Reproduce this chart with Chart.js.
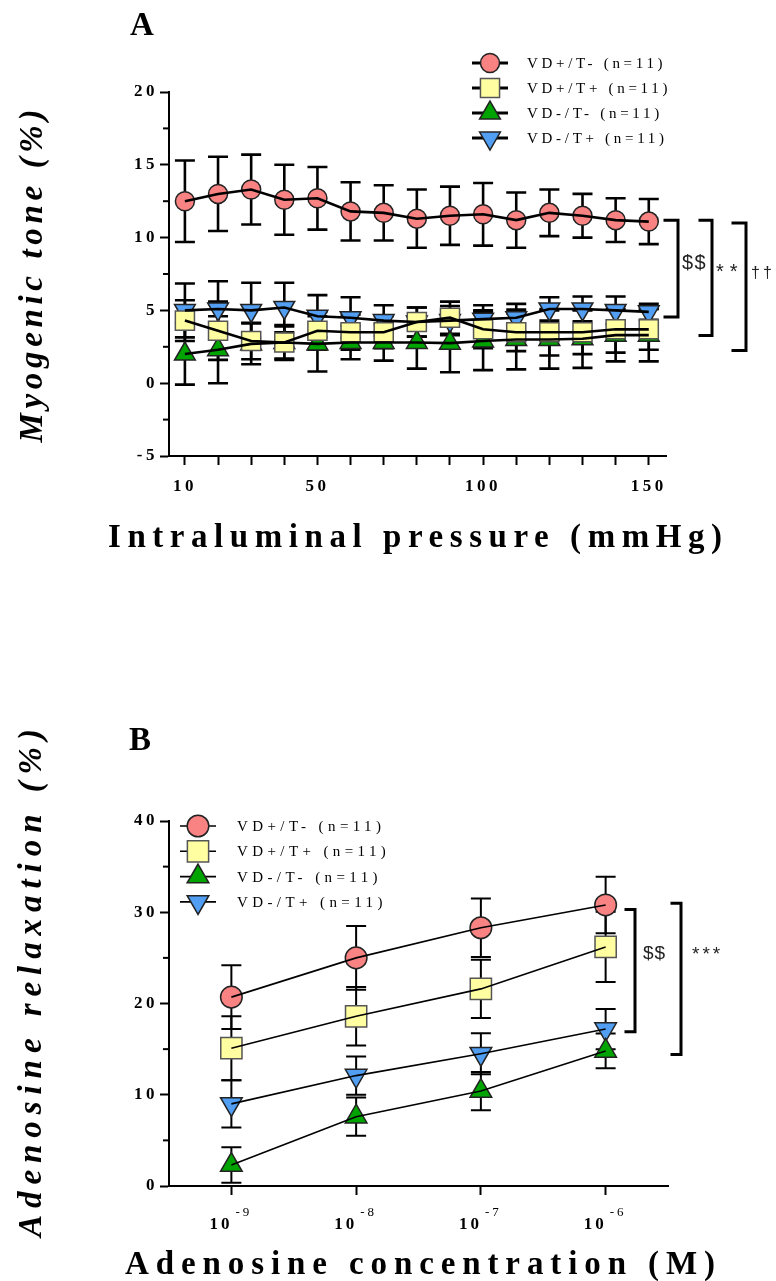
<!DOCTYPE html>
<html>
<head>
<meta charset="utf-8">
<script src="https://cdn.jsdelivr.net/npm/chart.js@4.4.1/dist/chart.umd.min.js"></script>
<style>
  html, body { margin: 0; padding: 0; background: #fff; }
  body { width: 776px; height: 1281px; position: relative; overflow: hidden; }
  .panel { position: absolute; left: 0; width: 776px; }
  #panelA { top: 0; height: 600px; }
  #panelB { top: 640px; height: 641px; }
</style>
</head>
<body>
<div class="panel" id="panelA"><canvas id="chartA" width="776" height="600"></canvas></div>
<div class="panel" id="panelB"><canvas id="chartB" width="776" height="641"></canvas></div>
<script>
"use strict";

// ---- Panel A : myogenic tone vs intraluminal pressure ----
const pressure = [10, 20, 30, 40, 50, 60, 70, 80, 90, 100, 110, 120, 130, 140, 150];
const pressureLabels = [10, 50, 100, 150];
const toneTicks = [-5, 0, 5, 10, 15, 20];

const toneVdPosTNeg = [12.5, 13.0, 13.3, 12.6, 12.7, 11.8, 11.7, 11.3, 11.5, 11.6, 11.2, 11.7, 11.5, 11.2, 11.1];
const toneVdPosTNegSem = [2.8, 2.55, 2.4, 2.4, 2.15, 2.0, 1.9, 2.0, 2.0, 2.15, 1.9, 1.6, 1.5, 1.5, 1.55];
const toneVdPosTPos = [4.3, 3.6, 2.9, 2.8, 3.6, 3.5, 3.5, 4.2, 4.5, 3.7, 3.5, 3.5, 3.5, 3.7, 3.7];
const toneVdPosTPosSem = [1.4, 2.0, 1.25, 1.1, 1.3, 1.2, 1.1, 1.0, 1.1, 1.3, 1.3, 1.6, 1.5, 1.6, 1.4];
const toneVdNegTNeg = [2.0, 2.3, 2.7, 2.8, 2.7, 2.8, 2.8, 2.8, 2.75, 2.9, 3.0, 3.0, 3.05, 3.3, 3.3];
const toneVdNegTNegSem = [2.1, 2.3, 1.4, 1.2, 1.9, 1.15, 1.25, 1.8, 2.0, 2.0, 2.05, 2.0, 2.0, 1.8, 1.8];
const toneVdNegTPos = [5.0, 5.1, 5.0, 5.2, 4.6, 4.5, 4.3, 4.2, 4.3, 4.4, 4.5, 5.1, 5.1, 5.0, 4.9];
const toneVdNegTPosSem = [1.85, 1.9, 1.9, 1.7, 1.45, 1.4, 1.05, 1.0, 1.0, 0.95, 0.95, 0.8, 0.85, 0.95, 0.55];

// ---- Panel B : adenosine relaxation vs concentration ----
const concentration = [1e-9, 1e-8, 1e-7, 1e-6];
const relaxTicks = [0, 10, 20, 30, 40];

const relaxVdPosTNeg = [20.7, 25.0, 28.3, 30.8];
const relaxVdPosTNegSem = [3.5, 3.5, 3.2, 3.1];
const relaxVdPosTPos = [15.1, 18.6, 21.6, 26.2];
const relaxVdPosTPosSem = [3.5, 3.2, 3.2, 3.85];
const relaxVdNegTNeg = [2.3, 7.6, 10.4, 14.8];
const relaxVdNegTNegSem = [1.95, 2.1, 2.1, 1.9];
const relaxVdNegTPos = [9.0, 12.1, 14.5, 17.2];
const relaxVdNegTPosSem = [2.6, 2.1, 2.25, 2.2];

const seriesLabels = ['VD+/T- (n=11)', 'VD+/T+ (n=11)', 'VD-/T- (n=11)', 'VD-/T+ (n=11)'];

const markerStyles = [
    { pointStyle: 'circle', rotation: 0, fill: '#F98282', stroke: '#222', rA: 9.5, rB: 10.8 },
    { pointStyle: 'rect', rotation: 0, fill: '#FFFFA2', stroke: '#555', rA: 13.5, rB: 15 },
    { pointStyle: 'triangle', rotation: 0, fill: '#00A400', stroke: '#222', rA: 12, rB: 12.5 },
    { pointStyle: 'triangle', rotation: 180, fill: '#519EF2', stroke: '#222', rA: 12, rB: 12.5 },
];

const serif = "'Liberation Serif', 'Times New Roman', serif";
const sans = "'Liberation Sans', Arial, sans-serif";
const tickFont = { family: serif, size: 17, weight: 'bold' };

// marker dataset + black connecting line drawn on top of it
function buildDatasets(xValues, series, lineWidth, sizeKey) {
    const markers = [];
    const lines = [];
    series.forEach((s, i) => {
        const st = markerStyles[i];
        const points = xValues.map((x, j) => ({ x: x, y: s.values[j] }));
        markers.push({
            label: seriesLabels[i],
            data: points,
            sem: s.sem,
            styleIdx: i,
            showLine: false,
            pointStyle: st.pointStyle,
            rotation: st.rotation,
            pointRadius: st[sizeKey],
            pointHoverRadius: st[sizeKey],
            pointBackgroundColor: st.fill,
            pointBorderColor: st.stroke,
            pointBorderWidth: 1.5,
            order: i + 1,
            clip: false,
        });
        lines.push({
            label: '',
            data: points,
            showLine: true,
            borderColor: '#000',
            borderWidth: lineWidth,
            pointRadius: 0,
            tension: 0,
            fill: false,
            order: 0,
            clip: false,
        });
    });
    return markers.concat(lines);
}

function makeErrorBars(lineWidth, capWidth) {
    return {
        id: 'errorBars',
        beforeDatasetsDraw(chart) {
            const ctx = chart.ctx;
            const yScale = chart.scales.y;
            ctx.save();
            ctx.strokeStyle = '#000';
            ctx.lineWidth = lineWidth;
            chart.data.datasets.forEach((ds, i) => {
                if (!ds.sem) return;
                const meta = chart.getDatasetMeta(i);
                meta.data.forEach((pt, j) => {
                    const v = ds.data[j].y;
                    const top = yScale.getPixelForValue(v + ds.sem[j]);
                    const bot = yScale.getPixelForValue(v - ds.sem[j]);
                    ctx.beginPath();
                    ctx.moveTo(pt.x, top);
                    ctx.lineTo(pt.x, bot);
                    ctx.moveTo(pt.x - capWidth / 2, top);
                    ctx.lineTo(pt.x + capWidth / 2, top);
                    ctx.moveTo(pt.x - capWidth / 2, bot);
                    ctx.lineTo(pt.x + capWidth / 2, bot);
                    ctx.stroke();
                });
            });
            ctx.restore();
        }
    };
}

// short ticks halfway between the labelled y ticks
const minorTicks = {
    id: 'minorTicks',
    afterDraw(chart) {
        const ctx = chart.ctx;
        const y = chart.scales.y;
        const vals = y.ticks.map(t => t.value);
        ctx.save();
        ctx.strokeStyle = '#000';
        ctx.lineWidth = 2;
        for (let i = 0; i < vals.length - 1; i++) {
            const py = y.getPixelForValue((vals[i] + vals[i + 1]) / 2);
            ctx.beginPath();
            ctx.moveTo(chart.chartArea.left - 6, py);
            ctx.lineTo(chart.chartArea.left, py);
            ctx.stroke();
        }
        ctx.restore();
    }
};

const tickSpacing = {
    id: 'tickSpacing',
    beforeDraw(chart) {
        chart.ctx.letterSpacing = '3.5px';
    }
};

// "10" with a raised exponent under each decade tick
const powerTicks = {
    id: 'powerTicks',
    afterDraw(chart) {
        const ctx = chart.ctx;
        const x = chart.scales.x;
        const base = chart.chartArea.bottom + 43;
        ctx.save();
        ctx.fillStyle = '#000';
        ctx.letterSpacing = '3px';
        ctx.textBaseline = 'alphabetic';
        x.ticks.forEach(t => {
            const px = x.getPixelForValue(t.value);
            ctx.font = 'bold 17px ' + serif;
            ctx.textAlign = 'right';
            ctx.fillText('10', px + 1, base);
            ctx.font = '13px ' + serif;
            ctx.textAlign = 'left';
            ctx.fillText(String(Math.round(Math.log10(t.value))), px + 4, base - 13);
        });
        ctx.restore();
    }
};

function spacedText(ctx, text, cx, cy, font, width, angle) {
    ctx.save();
    ctx.font = font;
    ctx.letterSpacing = '0px';
    const natural = ctx.measureText(text).width;
    const sp = (width - natural) / (text.length - 1);
    ctx.letterSpacing = sp + 'px';
    ctx.translate(cx, cy);
    ctx.rotate(angle || 0);
    ctx.textAlign = 'left';
    ctx.textBaseline = 'middle';
    ctx.fillStyle = '#000';
    ctx.fillText(text, -width / 2, 0);
    ctx.restore();
}

function drawMarker(ctx, st, x, y, r) {
    ctx.beginPath();
    if (st.pointStyle === 'circle') {
        ctx.arc(x, y, r, 0, Math.PI * 2);
    } else if (st.pointStyle === 'rect') {
        const h = r * Math.SQRT1_2;
        ctx.rect(x - h, y - h, 2 * h, 2 * h);
    } else {
        const rad = st.rotation * Math.PI / 180;
        for (let k = 0; k < 3; k++) {
            const a = rad + k * 2 * Math.PI / 3;
            const px = x + Math.sin(a) * r;
            const py = y - Math.cos(a) * r;
            if (k === 0) ctx.moveTo(px, py); else ctx.lineTo(px, py);
        }
        ctx.closePath();
    }
    ctx.fillStyle = st.fill;
    ctx.fill();
    ctx.lineWidth = 1.5;
    ctx.strokeStyle = st.stroke;
    ctx.stroke();
}

// panel letter, axis titles, legend and significance brackets
function makeDecor(cfg) {
    return {
        id: 'decor',
        afterDraw(chart) {
            const ctx = chart.ctx;
            const area = chart.chartArea;
            const y = chart.scales.y;

            ctx.save();
            ctx.fillStyle = '#000';
            ctx.letterSpacing = '0px';
            ctx.font = 'bold 33px ' + serif;
            ctx.textBaseline = 'alphabetic';
            ctx.fillText(cfg.letter, cfg.letterX, cfg.letterY);
            ctx.restore();

            spacedText(ctx, cfg.xTitle, cfg.xTitleX, cfg.xTitleY, 'bold 33px ' + serif, cfg.xTitleW, 0);
            spacedText(ctx, cfg.yTitle, cfg.yTitleX, cfg.yTitleY, 'italic bold 33px ' + serif, cfg.yTitleW, -Math.PI / 2);

            // legend
            const lg = cfg.legend;
            ctx.save();
            chart.data.datasets.filter(ds => ds.sem).forEach((ds, i) => {
                const st = markerStyles[ds.styleIdx];
                const ly = lg.y + i * lg.dy;
                ctx.strokeStyle = '#000';
                ctx.lineWidth = lg.lineWidth;
                ctx.beginPath();
                ctx.moveTo(lg.x - lg.half, ly);
                ctx.lineTo(lg.x + lg.half, ly);
                ctx.stroke();
                drawMarker(ctx, st, lg.x, ly, st[cfg.sizeKey]);
                ctx.fillStyle = '#000';
                ctx.font = lg.font;
                ctx.letterSpacing = lg.spacing + 'px';
                ctx.textAlign = 'left';
                ctx.textBaseline = 'middle';
                ctx.fillText(ds.label, lg.textX, ly + 1);
            });
            ctx.restore();

            // brackets
            ctx.save();
            cfg.brackets.forEach(b => {
                const x = area.right + b.dx;
                const yt = y.getPixelForValue(b.top);
                const yb = y.getPixelForValue(b.bottom);
                ctx.strokeStyle = '#000';
                ctx.lineWidth = b.lineWidth;
                ctx.lineCap = 'square';
                ctx.beginPath();
                ctx.moveTo(x - b.arm, yt);
                ctx.lineTo(x, yt);
                ctx.lineTo(x, yb);
                ctx.lineTo(x - b.arm, yb);
                ctx.stroke();
                ctx.fillStyle = '#222';
                ctx.font = b.font;
                ctx.letterSpacing = b.spacing + 'px';
                ctx.textAlign = 'left';
                ctx.textBaseline = 'middle';
                ctx.fillText(b.label, x + b.gap, y.getPixelForValue(b.textAt));
            });
            ctx.restore();
        }
    };
}

function axisStyle() {
    return {
        grid: { display: true, drawOnChartArea: false, drawTicks: true, tickLength: 9, tickWidth: 2, tickColor: '#000' },
        border: { display: true, color: '#000', width: 2 },
    };
}

function createToneChart() {
    const datasets = buildDatasets(pressure, [
        { values: toneVdPosTNeg, sem: toneVdPosTNegSem },
        { values: toneVdPosTPos, sem: toneVdPosTPosSem },
        { values: toneVdNegTNeg, sem: toneVdNegTNegSem },
        { values: toneVdNegTPos, sem: toneVdNegTPosSem },
    ], 2.6, 'rA');

    const ctx = document.getElementById('chartA').getContext('2d');
    return new Chart(ctx, {
        type: 'line',
        data: { datasets: datasets },
        options: {
            responsive: false,
            animation: false,
            devicePixelRatio: 1,
            layout: { padding: { left: 0, right: 110, top: 92, bottom: 84 } },
            plugins: { legend: { display: false }, tooltip: { enabled: false }, title: { display: false } },
            scales: {
                x: Object.assign(axisStyle(), {
                    type: 'linear',
                    min: 5.2,
                    max: 155.2,
                    afterBuildTicks: scale => { scale.ticks = pressure.map(v => ({ value: v })); },
                    afterFit: scale => { scale.height = 60; },
                    ticks: {
                        autoSkip: false, maxRotation: 0, padding: 11, color: '#000', font: tickFont,
                        callback: v => pressureLabels.includes(v) ? String(v) : '',
                    },
                }),
                y: Object.assign(axisStyle(), {
                    type: 'linear',
                    min: -5,
                    max: 20,
                    afterBuildTicks: scale => { scale.ticks = toneTicks.map(v => ({ value: v })); },
                    afterFit: scale => { scale.width = 169; },
                    ticks: { padding: 2, color: '#000', font: tickFont },
                }),
            },
        },
        plugins: [tickSpacing, makeErrorBars(2.6, 20), minorTicks, makeDecor({
            letter: 'A', letterX: 130, letterY: 35,
            xTitle: 'Intraluminal pressure (mmHg)', xTitleX: 415, xTitleY: 538, xTitleW: 614,
            yTitle: 'Myogenic tone (%)', yTitleX: 33, yTitleY: 276, yTitleW: 333,
            sizeKey: 'rA',
            legend: { x: 490, y: 63, dy: 25, half: 18, lineWidth: 3, textX: 527,
                font: '15px ' + serif, spacing: 3.7 },
            brackets: [
                { top: 11.2, bottom: 4.54, dx: 12, arm: 13, lineWidth: 3, label: '$$', textAt: 8.2,
                    gap: 4, font: '20px ' + sans, spacing: 1.5 },
                { top: 11.2, bottom: 3.28, dx: 46, arm: 12, lineWidth: 3, label: '**', textAt: 7.6,
                    gap: 4, font: '20px ' + sans, spacing: 6 },
                { top: 11.0, bottom: 2.25, dx: 80, arm: 13, lineWidth: 3, label: '\u2020\u2020', textAt: 7.5,
                    gap: 5, font: '16px ' + sans, spacing: 3 },
            ],
        })],
    });
}

function createRelaxChart() {
    const datasets = buildDatasets(concentration, [
        { values: relaxVdPosTNeg, sem: relaxVdPosTNegSem },
        { values: relaxVdPosTPos, sem: relaxVdPosTPosSem },
        { values: relaxVdNegTNeg, sem: relaxVdNegTNegSem },
        { values: relaxVdNegTPos, sem: relaxVdNegTPosSem },
    ], 1.6, 'rB');

    const ctx = document.getElementById('chartB').getContext('2d');
    return new Chart(ctx, {
        type: 'line',
        data: { datasets: datasets },
        options: {
            responsive: false,
            animation: false,
            devicePixelRatio: 1,
            layout: { padding: { left: 0, right: 108, top: 181, bottom: 35 } },
            plugins: { legend: { display: false }, tooltip: { enabled: false }, title: { display: false } },
            scales: {
                x: Object.assign(axisStyle(), {
                    type: 'logarithmic',
                    min: Math.pow(10, -9.5),
                    max: Math.pow(10, -5.5),
                    afterBuildTicks: scale => { scale.ticks = concentration.map(v => ({ value: v })); },
                    afterFit: scale => { scale.height = 60; },
                    // labels are drawn by powerTicks (base + superscript exponent)
                    ticks: { autoSkip: false, maxRotation: 0, callback: () => '' },
                }),
                y: Object.assign(axisStyle(), {
                    type: 'linear',
                    min: 0,
                    max: 40,
                    afterBuildTicks: scale => { scale.ticks = relaxTicks.map(v => ({ value: v })); },
                    afterFit: scale => { scale.width = 169; },
                    ticks: { padding: 2, color: '#000', font: tickFont },
                }),
            },
        },
        plugins: [tickSpacing, makeErrorBars(2, 20), minorTicks, powerTicks, makeDecor({
            letter: 'B', letterX: 129, letterY: 110,
            xTitle: 'Adenosine concentration (M)', xTitleX: 420, xTitleY: 625, xTitleW: 590,
            yTitle: 'Adenosine relaxation (%)', yTitleX: 32, yTitleY: 343, yTitleW: 508,
            sizeKey: 'rB',
            legend: { x: 198, y: 186, dy: 25.3, half: 18, lineWidth: 1.6, textX: 237,
                font: '15px ' + serif, spacing: 4.4 },
            brackets: [
                { top: 30.3, bottom: 16.9, dx: -33, arm: 9, lineWidth: 3, label: '$$', textAt: 25.5,
                    gap: 8, font: '19px ' + sans, spacing: 1 },
                { top: 31.0, bottom: 14.4, dx: 13, arm: 9, lineWidth: 3, label: '***', textAt: 25.3,
                    gap: 11, font: '19px ' + sans, spacing: 3 },
            ],
        })],
    });
}

createToneChart();
createRelaxChart();
</script>
</body>
</html>
